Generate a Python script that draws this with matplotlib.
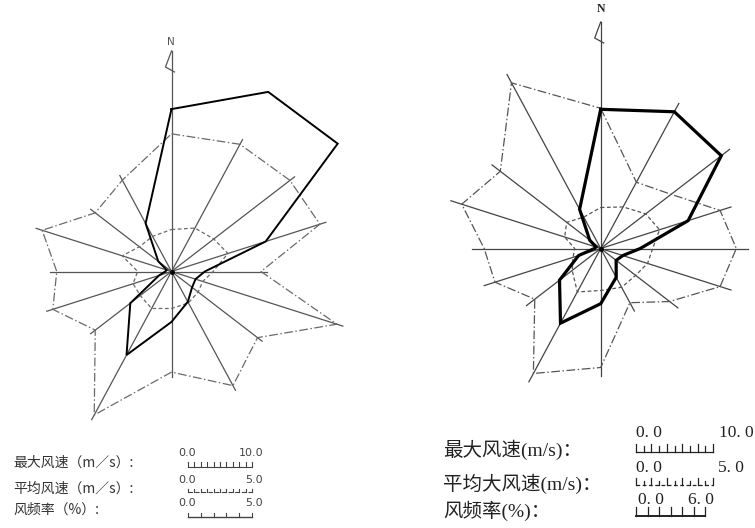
import numpy as np
import matplotlib
matplotlib.use("Agg")
import matplotlib.pyplot as plt

plt.rcParams['font.family'] = ['Noto Sans CJK SC', 'DejaVu Sans']

# 16 wind directions, clockwise from north
directions = ["N", "NNE", "NE", "ENE", "E", "ESE", "SE", "SSE",
              "S", "SSW", "SW", "WSW", "W", "WNW", "NW", "NNW"]

# ---- left rose ----
left_max_wind = [20.3, 24.3, 22.6, 9.8, 3.2, 2.5, 2.8, 4.1,
                 6.3, 11.3, 5.6, 1.3, 0.6, 0.5, 1.8, 6.5]          # m/s
left_avg_wind = [4.2, 4.7, 4.6, 4.7, 3.2, 2.6, 2.9, 3.4,
                 3.7, 4.0, 3.4, 3.2, 2.6, 4.1, 3.5, 3.8]            # m/s
left_freq = [7.8, 7.8, 7.3, 7.0, 3.9, 7.8, 5.3, 7.0,
             5.7, 8.8, 4.7, 5.6, 5.0, 6.1, 4.7, 5.6]                # %

# ---- right rose ----
right_max_wind = [17.4, 18.5, 16.4, 9.1, 3.8, 2.3, 2.1, 3.9,
                  6.9, 10.1, 5.6, 2.3, 0.6, 0.5, 1.5, 5.3]         # m/s
right_avg_wind = [4.1, 4.5, 4.9, 4.9, 4.0, 3.9, 3.8, 4.2,
                  4.2, 4.7, 3.1, 2.3, 2.0, 3.0, 3.7, 3.4]           # m/s
right_freq = [8.6, 4.4, 4.7, 6.1, 6.4, 6.1, 4.6, 3.6,
              7.3, 8.3, 4.4, 5.4, 5.5, 7.1, 6.7, 11.0]              # %

left_labels = ["最大风速（m／s）:", "平均风速（m／s）:", "风频率（%）:"]
left_scale_text = [("0.0", "10.0"), ("0.0", "5.0"), ("0.0", "5.0")]
right_labels = ["最大风速(m/s)：", "平均大风速(m/s)：", "风频率(%)："]
right_scale_text = [("0. 0", "10. 0"), ("0. 0", "5. 0"), ("0. 0", "6. 0")]

fig = plt.figure(figsize=(7.55, 5.28), dpi=100)
ax = fig.add_axes([0, 0, 1, 1])
ax.set_xlim(0, 755)
ax.set_ylim(528, 0)
ax.axis('off')

theta = np.deg2rad(np.arange(16) * 22.5)
KX = 1.3  # horizontal stretch of the original drawing


def rose(cx, cy, maxw, avgw, freq, s_max, s_avg, s_freq, top_y,
         overshoot, spoke_from_all, lw_max, spoke_col, poly_col):
    rm = np.asarray(maxw) * s_max
    ra = np.asarray(avgw) * s_avg
    rf = np.asarray(freq) * s_freq

    def xy(r):
        return cx + KX * r * np.sin(theta), cy - r * np.cos(theta)

    # spokes
    if spoke_from_all:
        L = np.maximum(np.maximum(rm, ra), rf) + overshoot
    else:
        L = np.maximum(ra, rf) + overshoot
    ex, ey = xy(L)
    for i in range(16):
        if i == 0:
            ax.plot([cx, cx], [cy, top_y], color=spoke_col, lw=0.9, zorder=1)
        else:
            ax.plot([cx, ex[i]], [cy, ey[i]], color=spoke_col, lw=0.9, zorder=1)
    # frequency (dash-dot)
    x, y = xy(rf)
    ax.plot(np.r_[x, x[0]], np.r_[y, y[0]], color=poly_col, lw=0.9,
            dashes=(7, 2, 1.2, 2), zorder=2)
    # average wind (dashed)
    x, y = xy(ra)
    ax.plot(np.r_[x, x[0]], np.r_[y, y[0]], color=poly_col, lw=0.9,
            dashes=(3, 2), zorder=2)
    # max wind (solid)
    x, y = xy(rm)
    ax.plot(np.r_[x, x[0]], np.r_[y, y[0]], color='black', lw=lw_max,
            solid_joinstyle='miter', zorder=3)
    ax.plot([cx], [cy], 'o', color='black', ms=2.5, zorder=4)
    # north arrow
    ax.plot([cx, cx - 6, cx + 3], [top_y, top_y + 16, top_y + 21],
            color=spoke_col, lw=0.9)


# left rose
rose(171.5, 271.5, left_max_wind, left_avg_wind, left_freq,
     8.0, 10.0, 17.65, 51, 5, False, 1.4, '#555555', '#6a6a6a')
ax.text(171, 42, "N", ha='center', va='center', fontsize=7.5,
        color='#555555', family='DejaVu Sans')

# right rose
rose(600.7, 248.5, right_max_wind, right_avg_wind, right_freq,
     8.0, 10.0, 16.3, 22, 9, True, 2.3, '#444444', '#555555')
ax.text(601, 9, "N", ha='center', va='center', fontsize=8.5,
        color='#222222', family='Liberation Serif', fontweight='bold')

# ---- left legend ----
for lab, yy in zip(left_labels, [463, 489, 510]):
    ax.text(13, yy, lab, ha='left', va='center', fontsize=10, color='#333333')
for (a, b), yy in zip(left_scale_text, [453, 480, 503]):
    ax.text(178, yy, a, ha='left', va='center', fontsize=8, color='#444444',
            family='DejaVu Sans')
    ax.text(263, yy, b, ha='right', va='center', fontsize=8, color='#444444',
            family='DejaVu Sans')
x0, x1 = 188, 252
ax.plot([x0, x1], [467, 467], color='#444444', lw=0.8)
for xx in np.linspace(x0, x1, 11):
    ax.plot([xx, xx], [467, 462], color='#444444', lw=0.8)
ax.plot([x0, x1], [492, 492], color='#444444', lw=0.8, dashes=(4, 2))
for xx in np.linspace(x0, x1, 11):
    ax.plot([xx, xx], [492, 489], color='#444444', lw=0.8)
ax.plot([x0, x1], [517, 517], color='#444444', lw=1.0)
for xx in np.linspace(x0, x1, 6):
    ax.plot([xx, xx], [517, 513], color='#444444', lw=0.8)

# ---- right legend ----
lab_fam = ['Liberation Serif', 'Noto Sans CJK SC']
for lab, yy in zip(right_labels, [450, 484, 511]):
    ax.text(443, yy, lab, ha='left', va='center', fontsize=14, color='#222222',
            family=lab_fam)
num_font = 'Liberation Serif'
nfs = 12.5
ax.text(636, 433, right_scale_text[0][0], ha='left', va='center', fontsize=nfs,
        color='#222222', family=num_font)
ax.text(754, 433, right_scale_text[0][1], ha='right', va='center', fontsize=nfs,
        color='#222222', family=num_font)
ax.text(636, 468, right_scale_text[1][0], ha='left', va='center', fontsize=nfs,
        color='#222222', family=num_font)
ax.text(744, 468, right_scale_text[1][1], ha='right', va='center', fontsize=nfs,
        color='#222222', family=num_font)
ax.text(638, 500, right_scale_text[2][0], ha='left', va='center', fontsize=nfs,
        color='#222222', family=num_font)
ax.text(688, 500, right_scale_text[2][1], ha='left', va='center', fontsize=nfs,
        color='#222222', family=num_font)
x0, x1 = 636, 713
ax.plot([x0, x1], [452, 452], color='#222222', lw=0.9)
for i, xx in enumerate(np.linspace(x0, x1, 11)):
    ax.plot([xx, xx], [452, 444 if i % 2 == 0 else 446], color='#222222', lw=0.9)
ax.plot([x0, x1], [485, 485], color='#222222', lw=0.9, dashes=(3, 2))
for i, xx in enumerate(np.linspace(x0, x1, 11)):
    ax.plot([xx, xx], [485, 478 if i % 2 == 0 else 481], color='#222222', lw=0.9)
x1f = 705
ax.plot([x0, x1f], [516, 516], color='#111111', lw=1.3)
for xx in np.linspace(x0, x1f, 7):
    ax.plot([xx, xx], [516, 507], color='#222222', lw=0.9)

fig.savefig("out.png", dpi=100)
